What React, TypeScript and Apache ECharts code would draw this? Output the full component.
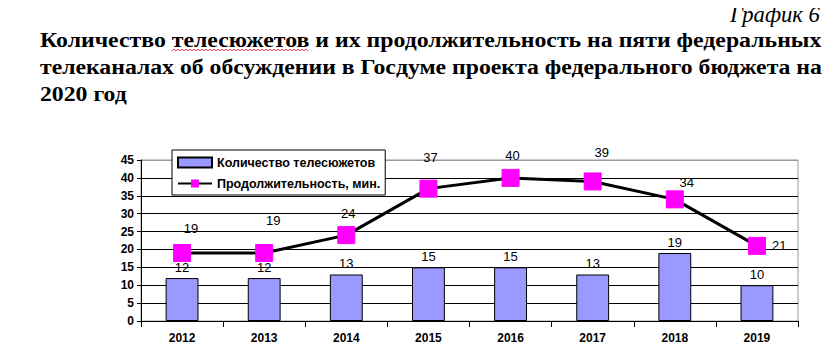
import React, { useEffect, useRef } from "react";
import * as echarts from "echarts";

const years = ["2012", "2013", "2014", "2015", "2016", "2017", "2018", "2019"];
const storyCounts = [12, 12, 13, 15, 15, 13, 19, 10];
const durations = [19, 19, 24, 37, 40, 39, 34, 21];
const yTicks = { min: 0, max: 45, interval: 5 };

const seriesNames = ["Количество телесюжетов", "Продолжительность, мин."];
const titleLines = [
  "Количество телесюжетов и их продолжительность на пяти федеральных",
  "телеканалах об обсуждении в Госдуме проекта федерального бюджета на",
  "2020 год",
];
const captionText = "График 6";

const TITLE_FONT = "bold 22px 'Liberation Serif', 'Times New Roman', serif";
const CAPTION_FONT = "italic 23px 'Liberation Serif', 'Times New Roman', serif";

function measure(text: string, font: string): number {
  const c = document.createElement("canvas").getContext("2d")!;
  c.font = font;
  return c.measureText(text).width;
}

export default function App() {
  const ref = useRef<HTMLDivElement>(null);
  useEffect(() => {
    if (!ref.current) return;
    const chart = echarts.init(ref.current, undefined, { renderer: "svg" });

    const lineLabelOffsets = [
      [9, -25], [9, -33], [2, -22], [2, -31], [2, -22], [9, -29], [12, -17], [0, 0],
    ];

    const graphics: any[] = [];
    const lx0 = 40, lx1 = 822;
    const lineTops = [29, 56, 83];
    const scales = titleLines.slice(0, 2).map((t) => (lx1 - lx0) / measure(t, TITLE_FONT));
    const scaleAll = [scales[0], scales[1], (scales[0] + scales[1]) / 2];
    titleLines.forEach((t, i) => {
      graphics.push({
        type: "text",
        x: lx0,
        y: lineTops[i],
        scaleX: scaleAll[i],
        style: { text: t, font: TITLE_FONT, fill: "#000", textVerticalAlign: "top" },
      });
    });

    const capW = measure(captionText, CAPTION_FONT);
    const capScale = 90 / capW;
    graphics.push({
      type: "text",
      x: 730,
      y: 3,
      scaleX: capScale,
      style: { text: captionText, font: CAPTION_FONT, fill: "#000", textVerticalAlign: "top" },
    });

    // spell-check wavy underline under the second word of the first line
    const w1 = titleLines[0].split(" ");
    const ux0 = lx0 + measure(w1[0] + " ", TITLE_FONT) * scaleAll[0];
    const ux1 = ux0 + measure(w1[1], TITLE_FONT) * scaleAll[0];
    const pts: number[][] = [];
    for (let i = 0, x = ux0; x <= ux1; i++, x += 2) {
      pts.push([x, i % 2 === 0 ? 51 : 49]);
    }
    graphics.push({
      type: "polyline",
      shape: { points: pts },
      style: { stroke: "#e03030", lineWidth: 1, fill: null },
    });

    const nSplits = (yTicks.max - yTicks.min) / yTicks.interval + 1;
    const sc: string[] = [];
    for (let i = 0; i < nSplits; i++) sc.push(i === nSplits - 1 ? "#999" : "#000");

    chart.setOption({
      animation: false,
      backgroundColor: "#fff",
      graphic: graphics,
      grid: {
        left: 141,
        right: 36,
        top: 160,
        bottom: 31,
        show: true,
        borderColor: "#999",
        borderWidth: 1,
        backgroundColor: "transparent",
      },
      legend: {
        left: 172,
        top: 150,
        orient: "vertical",
        backgroundColor: "#fff",
        borderColor: "#000",
        borderWidth: 1,
        borderRadius: 0,
        padding: [6, 5, 5, 5],
        itemGap: 8,
        itemWidth: 34,
        itemHeight: 10,
        textStyle: {
          fontFamily: "'Liberation Sans', Arial, sans-serif",
          fontWeight: "bold",
          fontSize: 12.5,
          color: "#000",
        },
        data: [
          { name: seriesNames[0], icon: "rect" },
          { name: seriesNames[1] },
        ],
      },
      xAxis: {
        type: "category",
        data: years,
        axisLine: { lineStyle: { color: "#000", width: 1 } },
        axisTick: { show: true, length: 6, lineStyle: { color: "#000" } },
        axisLabel: {
          color: "#000",
          fontFamily: "'Liberation Sans', Arial, sans-serif",
          fontWeight: "bold",
          fontSize: 12,
          margin: 11,
        },
      },
      yAxis: {
        type: "value",
        min: yTicks.min,
        max: yTicks.max,
        interval: yTicks.interval,
        axisLine: { show: true, lineStyle: { color: "#000", width: 1 } },
        axisTick: { show: true, length: 4, lineStyle: { color: "#000" } },
        splitLine: { show: true, lineStyle: { color: sc, width: 1 } },
        axisLabel: {
          color: "#000",
          fontFamily: "'Liberation Sans', Arial, sans-serif",
          fontWeight: "bold",
          fontSize: 12,
          margin: 7,
        },
      },
      series: [
        {
          name: seriesNames[0],
          type: "bar",
          data: storyCounts,
          barWidth: "40%",
          itemStyle: { color: "#9999FF", borderColor: "#000", borderWidth: 1 },
          label: {
            show: true,
            position: "top",
            distance: 4,
            color: "#000",
            fontFamily: "'Liberation Sans', Arial, sans-serif",
            fontSize: 13,
          },
          z: 2,
        },
        {
          name: seriesNames[1],
          type: "line",
          data: durations.map((v, i) => ({
            value: v,
            label:
              i === durations.length - 1
                ? { position: "right", distance: 6, offset: [0, 0] }
                : { position: "inside", offset: lineLabelOffsets[i] },
          })),
          symbol: "rect",
          symbolSize: 17,
          lineStyle: { color: "#000", width: 3 },
          itemStyle: { color: "#FF00FF", borderColor: "#FF00FF" },
          label: {
            show: true,
            color: "#000",
            fontFamily: "'Liberation Sans', Arial, sans-serif",
            fontSize: 13,
          },
          z: 3,
        },
      ],
    });
    return () => chart.dispose();
  }, []);
  return <div ref={ref} style={{ width: 834, height: 352, margin: -8 }} />;
}
